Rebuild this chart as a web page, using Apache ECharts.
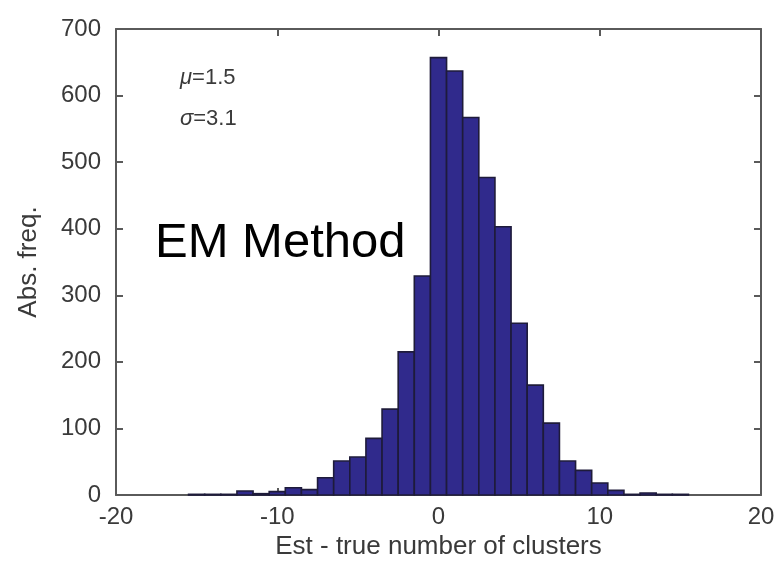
<!DOCTYPE html>
<html>
<head>
<meta charset="utf-8">
<script src="https://cdn.jsdelivr.net/npm/echarts@6/dist/echarts.min.js"></script>
<style>
	html, body { margin: 0; padding: 0; background: #fff; }
	#main { width: 779px; height: 566px; }
</style>
</head>
<body>
<div id="main"></div>
<script>
// bin centres (Est - true number of clusters) and absolute frequencies
var bins = [-15, -14, -13, -12, -11, -10, -9, -8, -7, -6, -5, -4, -3, -2, -1, 0, 1, 2, 3, 4, 5, 6, 7, 8, 9, 10, 11, 12, 13, 14, 15];
var freq = [1, 1, 1, 6, 2, 5, 11, 8, 26, 51, 57, 85, 129, 215, 329, 657, 637, 567, 477, 403, 258, 165, 108, 51, 37, 18, 7, 1, 3, 1, 1];
var xTicks = [-20, 20, 10];   // min, max, interval
var yTicks = [0, 700, 100];
var stats = { mu: '1.5', sigma: '3.1' };

var data = [];
for (var i = 0; i < bins.length; i++) {
	data.push([bins[i], freq[i]]);
}

var myChart = echarts.init(document.getElementById('main'));

var axisCol = '#5a5a5a';
var txtCol = '#3a3a3a';
var font = 'Liberation Sans';

// common look of the four sides of the frame
function side(extra) {
	var a = {
		type: 'value',
		axisLine: { show: true, onZero: false, lineStyle: { color: axisCol, width: 2 } },
		axisTick: { show: true, inside: true, length: 7, lineStyle: { color: axisCol, width: 2 } },
		axisLabel: { show: false },
		splitLine: { show: false }
	};
	for (var k in extra) a[k] = extra[k];
	return a;
}

option = {
	backgroundColor: '#fff',
	animation: false,
	grid: { left: 116, right: 18, top: 29, bottom: 71 },
	xAxis: [
		side({
			min: xTicks[0], max: xTicks[1], interval: xTicks[2],
			name: 'Est - true number of clusters',
			nameLocation: 'middle',
			nameGap: 38,
			nameTextStyle: { color: txtCol, fontSize: 26, fontFamily: font },
			axisLabel: { show: true, color: txtCol, fontSize: 24, fontFamily: font, margin: 10 }
		}),
		side({ position: 'top', min: xTicks[0], max: xTicks[1], interval: xTicks[2] })
	],
	yAxis: [
		side({
			min: yTicks[0], max: yTicks[1], interval: yTicks[2],
			name: 'Abs. freq.',
			nameLocation: 'middle',
			nameGap: 74,
			nameTextStyle: { color: txtCol, fontSize: 26, fontFamily: font },
			axisLabel: { show: true, color: txtCol, fontSize: 24, fontFamily: font, margin: 15 }
		}),
		side({ position: 'right', min: yTicks[0], max: yTicks[1], interval: yTicks[2] })
	],
	graphic: [{
		type: 'text', left: 155, top: 219,
		style: { text: 'EM Method', fill: '#000', fontSize: 49, fontFamily: font }
	}, {
		type: 'text', left: 180, top: 67,
		style: {
			text: '{i|\u03bc}=' + stats.mu,
			fill: txtCol, fontSize: 22, fontFamily: font,
			rich: { i: { fontStyle: 'italic', fontSize: 22, fill: txtCol, fontFamily: font } }
		}
	}, {
		type: 'text', left: 180, top: 108,
		style: {
			text: '{i|\u03c3}=' + stats.sigma,
			fill: txtCol, fontSize: 22, fontFamily: font,
			rich: { i: { fontStyle: 'italic', fontSize: 22, fill: txtCol, fontFamily: font } }
		}
	}],
	series: [{
		type: 'custom',
		xAxisIndex: 0, yAxisIndex: 0,
		data: data,
		encode: { x: 0, y: 1 },
		renderItem: function(params, api) {
			var x = api.value(0);
			var y = api.value(1);
			var p0 = api.coord([x - 0.5, y]);
			var p1 = api.coord([x + 0.5, 0]);
			return {
				type: 'rect',
				shape: { x: p0[0], y: p0[1], width: p1[0] - p0[0], height: p1[1] - p0[1] },
				style: { fill: '#302a8c', stroke: '#1e1b3a', lineWidth: 1.6 }
			};
		}
	}]
};

myChart.setOption(option);
</script>
</body>
</html>
